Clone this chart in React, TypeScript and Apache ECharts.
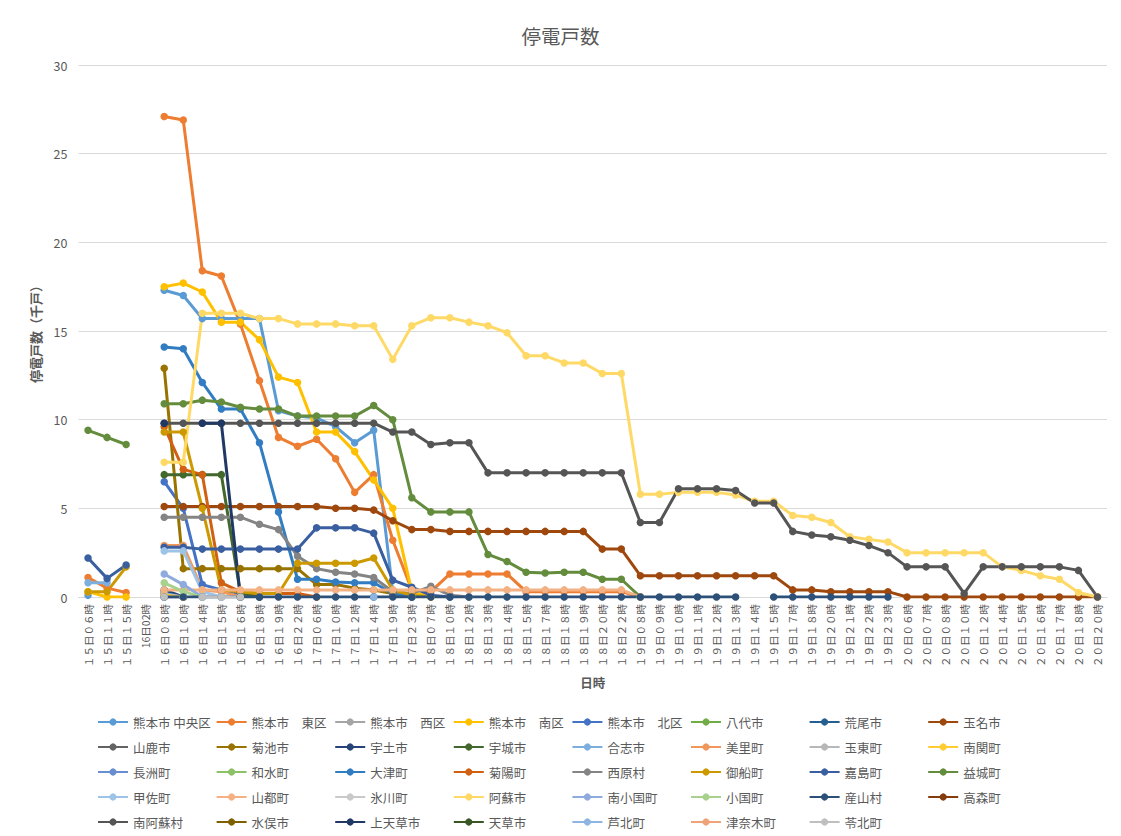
import React, { useEffect, useRef } from "react";
import * as echarts from "echarts";

const N = null;
const FONT = '"Noto Sans CJK JP", "Noto Sans", sans-serif';

const categories = [
  "１５日０６時", "１５日１１時", "１５日１５時", "16日02時",
  "１６日０８時", "１６日１０時", "１６日１４時", "１６日１５時", "１６日１６時", "１６日１８時", "１６日１９時", "１６日２２時",
  "１７日０６時", "１７日１０時", "１７日１２時", "１７日１４時", "１７日１９時", "１７日２３時",
  "１８日０７時", "１８日１０時", "１８日１２時", "１８日１３時", "１８日１４時", "１８日１５時", "１８日１７時", "１８日１８時", "１８日１９時", "１８日２０時", "１８日２２時",
  "１９日０８時", "１９日０９時", "１９日１０時", "１９日１１時", "１９日１２時", "１９日１３時", "１９日１４時", "１９日１５時", "１９日１７時", "１９日１８時", "１９日２０時", "１９日２１時", "１９日２２時", "１９日２３時",
  "２０日０６時", "２０日０７時", "２０日０８時", "２０日１０時", "２０日１２時", "２０日１４時", "２０日１５時", "２０日１６時", "２０日１７時", "２０日１８時", "２０日２０時",
];

const seriesNames = [
  "熊本市 中央区", "熊本市　東区", "熊本市　西区", "熊本市　南区", "熊本市　北区", "八代市", "荒尾市", "玉名市",
  "山鹿市", "菊池市", "宇土市", "宇城市", "合志市", "美里町", "玉東町", "南関町",
  "長洲町", "和水町", "大津町", "菊陽町", "西原村", "御船町", "嘉島町", "益城町",
  "甲佐町", "山都町", "氷川町", "阿蘇市", "南小国町", "小国町", "産山村", "高森町",
  "南阿蘇村", "水俣市", "上天草市", "天草市", "芦北町", "津奈木町", "苓北町",
];

const seriesColors = [
  "#5B9BD5", "#ED7D31", "#A5A5A5", "#FFC000", "#4472C4", "#70AD47", "#255E91", "#9E480E",
  "#636363", "#997300", "#264478", "#43682B", "#7CAFDD", "#F1975A", "#B7B7B7", "#FFCD33",
  "#698ED0", "#8CC168", "#327DC2", "#D26012", "#848484", "#CC9A00", "#3A5FA0", "#638C3D",
  "#9DC3E6", "#F4B183", "#C9C9C9", "#FFD966", "#8FAADC", "#A9D18E", "#2C5078", "#843C0C",
  "#555555", "#7F6000", "#203864", "#385723", "#8DB4E2", "#F0A278", "#BFBFBF",
];

// values (千戸), index-aligned with categories; missing trailing values are blank
const chuo = [0.1, N, N, N, 17.3, 17.0, 15.7, 15.7, 15.7, 15.7, 10.5, 10.2, 10.1, 9.6, 8.7, 9.4, 0.3, 0];
const higashi = [1.1, 0.5, 0.25, N, 27.1, 26.9, 18.4, 18.1, 15.4, 12.2, 9.0, 8.5, 8.9, 7.8, 5.9, 6.9, 3.2, 0.4, 0.3, 1.3, 1.3, 1.3, 1.3, 0.3, 0.3, 0.3, 0.3, 0.3, 0.3, 0];
const nishi: (number | null)[] = [];
const minami = [0.3, 0, 0, N, 17.5, 17.7, 17.2, 15.5, 15.5, 14.5, 12.4, 12.1, 9.3, 9.3, 8.2, 6.6, 5.0, 0.3, 0];
const kita = [N, N, N, N, 6.5, 5.0, 0.7, 0.4, 0.2, 0];
const yatsushiro = [N, N, N, N, 0.3, 0];
const arao = [N, N, N, N, 0, 0];
const tamana = [N, N, N, N, 5.1, 5.1, 5.1, 5.1, 5.1, 5.1, 5.1, 5.1, 5.1, 5.0, 5.0, 4.9, 4.3, 3.8, 3.8, 3.7, 3.7, 3.7, 3.7, 3.7, 3.7, 3.7, 3.7, 2.7, 2.7, 1.2, 1.2, 1.2, 1.2, 1.2, 1.2, 1.2, 1.2, 0.4, 0.4, 0.3, 0.3, 0.3, 0.3, 0, 0, 0, 0, 0, 0, 0, 0, 0, 0, 0];
const yamaga = [N, N, N, N, 0.2, 0];
const kikuchi = [N, N, N, N, 12.9, 1.6, 1.6, 1.6, 1.6, 1.6, 1.6, 1.6, 0.7, 0.7, 0.5, 0.4, 0.2, 0];
const uto = [N, N, N, N, 0.4, 0];
const uki = [N, N, N, N, 6.9, 6.9, 6.9, 6.9, 0.2, 0];
const koshi = [0.8, 0.8, N, N, 0.2, 0];
const misato = [N, N, N, N, 2.9, 2.9, 0.4, 0.3, 0];
const gyokuto = [N, N, N, N, 0.1, 0];
const nankan = [N, N, N, N, 0.1, 0];
const nagasu: (number | null)[] = [];
const nagomi: (number | null)[] = [];
const ozu = [N, N, N, N, 14.1, 14.0, 12.1, 10.6, 10.6, 8.7, 4.8, 1.0, 1.0, 0.85, 0.8, 0.8, 0.2, 0];
const kikuyo = [N, N, N, N, 9.6, 7.2, 6.9, 0.8, 0.3, 0.2, 0.2, 0.2, 0];
const nishihara = [N, N, N, N, 4.5, 4.5, 4.5, 4.5, 4.5, 4.1, 3.8, 2.3, 1.6, 1.4, 1.3, 1.1, 0.3, 0.2, 0.6, 0.1, 0];
const mifune = [0.3, 0.3, 1.7, N, 9.3, 9.3, 5.0, 0.4, 0.3, 0.2, 0.2, 1.9, 1.9, 1.9, 1.9, 2.2, 0.4, 0.1, 0];
const kashima = [2.2, 1.05, 1.8, N, 2.8, 2.8, 2.7, 2.7, 2.7, 2.7, 2.7, 2.7, 3.9, 3.9, 3.9, 3.6, 0.95, 0.55, 0.1, 0];
const mashiki = [9.4, 9.0, 8.6, N, 10.9, 10.9, 11.1, 11.0, 10.7, 10.6, 10.6, 10.2, 10.2, 10.2, 10.2, 10.8, 10.0, 5.6, 4.8, 4.8, 4.8, 2.4, 2.0, 1.4, 1.35, 1.4, 1.4, 1.0, 1.0, 0];
const kosa = [N, N, N, N, 2.6, 2.6, 0.3, 0];
const yamato = [N, N, N, N, 0.4, 0.4, 0.4, 0.4, 0.4, 0.4, 0.4, 0.4, 0.4, 0.4, 0.4, 0.4, 0.4, 0.4, 0.4, 0.4, 0.4, 0.4, 0.4, 0.4, 0.4, 0.4, 0.4, 0.4, 0.4, 0];
const hikawa: (number | null)[] = [];
const aso = [N, N, N, N, 7.6, 7.6, 16.0, 16.0, 16.0, 15.7, 15.7, 15.4, 15.4, 15.4, 15.3, 15.3, 13.4, 15.3, 15.75, 15.75, 15.5, 15.3, 14.9, 13.6, 13.6, 13.2, 13.2, 12.6, 12.6, 5.8, 5.8, 5.9, 5.9, 5.9, 5.75, 5.4, 5.4, 4.6, 4.5, 4.2, 3.4, 3.25, 3.1, 2.5, 2.5, 2.5, 2.5, 2.5, 1.7, 1.5, 1.2, 1.0, 0.25, 0];
const minamioguni = [N, N, N, N, 1.3, 0.7, 0];
const oguni = [N, N, N, N, 0.8, 0.3, 0];
const ubuyama = [N, N, N, N, 0, 0, 0, 0, 0, 0, 0, 0, 0, 0, 0, 0, 0, 0, 0, 0, 0, 0, 0, 0, 0, 0, 0, 0, 0, 0, 0, 0, 0, 0, 0, N, 0, 0, 0, 0, 0, 0, 0];
const takamori: (number | null)[] = [];
const minamiaso = [N, N, N, N, 9.8, 9.8, 9.8, 9.8, 9.8, 9.8, 9.8, 9.8, 9.8, 9.8, 9.8, 9.8, 9.3, 9.3, 8.6, 8.7, 8.7, 7.0, 7.0, 7.0, 7.0, 7.0, 7.0, 7.0, 7.0, 4.2, 4.2, 6.1, 6.1, 6.1, 6.0, 5.3, 5.3, 3.7, 3.5, 3.4, 3.2, 2.9, 2.5, 1.7, 1.7, 1.7, 0.2, 1.7, 1.7, 1.7, 1.7, 1.7, 1.5, 0];
const minamata: (number | null)[] = [];
const kamiamakusa = [N, N, N, N, 9.8, N, 9.8, 9.8, 0];
const amakusa: (number | null)[] = [];
const ashikita = [N, N, N, N, N, N, 0, 0, N, N, N, N, N, N, N, 0];
const tsunagi: (number | null)[] = [];
const reihoku = [N, N, N, N, 0, N, 0, 0, 0];

const seriesValues = [
  chuo, higashi, nishi, minami, kita, yatsushiro, arao, tamana,
  yamaga, kikuchi, uto, uki, koshi, misato, gyokuto, nankan,
  nagasu, nagomi, ozu, kikuyo, nishihara, mifune, kashima, mashiki,
  kosa, yamato, hikawa, aso, minamioguni, oguni, ubuyama, takamori,
  minamiaso, minamata, kamiamakusa, amakusa, ashikita, tsunagi, reihoku,
];

function pad(values: (number | null)[]) {
  const out = values.slice();
  while (out.length < categories.length) out.push(null);
  return out;
}

export default function App() {
  const ref = useRef<HTMLDivElement>(null);
  useEffect(() => {
    if (!ref.current) return;
    const chart = echarts.init(ref.current, null, { renderer: "svg" });
    const legends = [];
    for (let r = 0; r < 5; r++) {
      legends.push({
        orient: "horizontal",
        left: 97,
        top: 715 + r * 25,
        width: 1000,
        padding: 0,
        itemWidth: 30,
        itemHeight: 9,
        itemGap: 2.6,
        selectedMode: false,
        data: seriesNames.slice(r * 8, r * 8 + 8),
        textStyle: { fontSize: 12.5, color: "#595959", fontFamily: FONT, lineHeight: 14, width: 80 },
      });
    }
    chart.setOption({
      animation: false,
      backgroundColor: "#ffffff",
      title: {
        text: "停電戸数",
        left: "center",
        top: 21,
        textStyle: { fontSize: 19.5, fontWeight: "normal", color: "#595959", fontFamily: FONT },
      },
      legend: legends,
      grid: { left: 78.5, right: 14, top: 65, bottom: 239 },
      xAxis: {
        type: "category",
        data: categories,
        boundaryGap: true,
        axisTick: { show: false },
        axisLine: { lineStyle: { color: "#D9D9D9", width: 1 } },
        axisLabel: { rotate: 90, interval: 0, fontSize: 10.5, color: "#595959", margin: 7, fontFamily: FONT },
        name: "日時",
        nameLocation: "middle",
        nameGap: 79,
        nameTextStyle: { fontSize: 12.5, fontWeight: "bold", color: "#595959", fontFamily: FONT },
      },
      yAxis: {
        type: "value",
        min: 0,
        max: 30,
        interval: 5,
        axisLine: { show: false },
        axisTick: { show: false },
        splitLine: { lineStyle: { color: "#D9D9D9", width: 1 } },
        axisLabel: { fontSize: 12.5, color: "#595959", margin: 11, fontFamily: FONT },
        name: "停電戸数（千戸）",
        nameLocation: "middle",
        nameRotate: 90,
        nameGap: 37,
        nameTextStyle: { fontSize: 13, fontWeight: "bold", color: "#595959", fontFamily: FONT },
      },
      series: seriesNames.map((name, i) => ({
        name,
        type: "line",
        data: pad(seriesValues[i]),
        symbol: "circle",
        symbolSize: 7.5,
        showSymbol: true,
        showAllSymbol: true,
        connectNulls: false,
        lineStyle: { width: 3, color: seriesColors[i] },
        itemStyle: { color: seriesColors[i] },
        emphasis: { disabled: true },
      })),
    });
    return () => chart.dispose();
  }, []);
  return (
    <div
      ref={ref}
      style={{ position: "fixed", left: 0, top: 0, width: 1121, height: 836, background: "#fff" }}
    />
  );
}
